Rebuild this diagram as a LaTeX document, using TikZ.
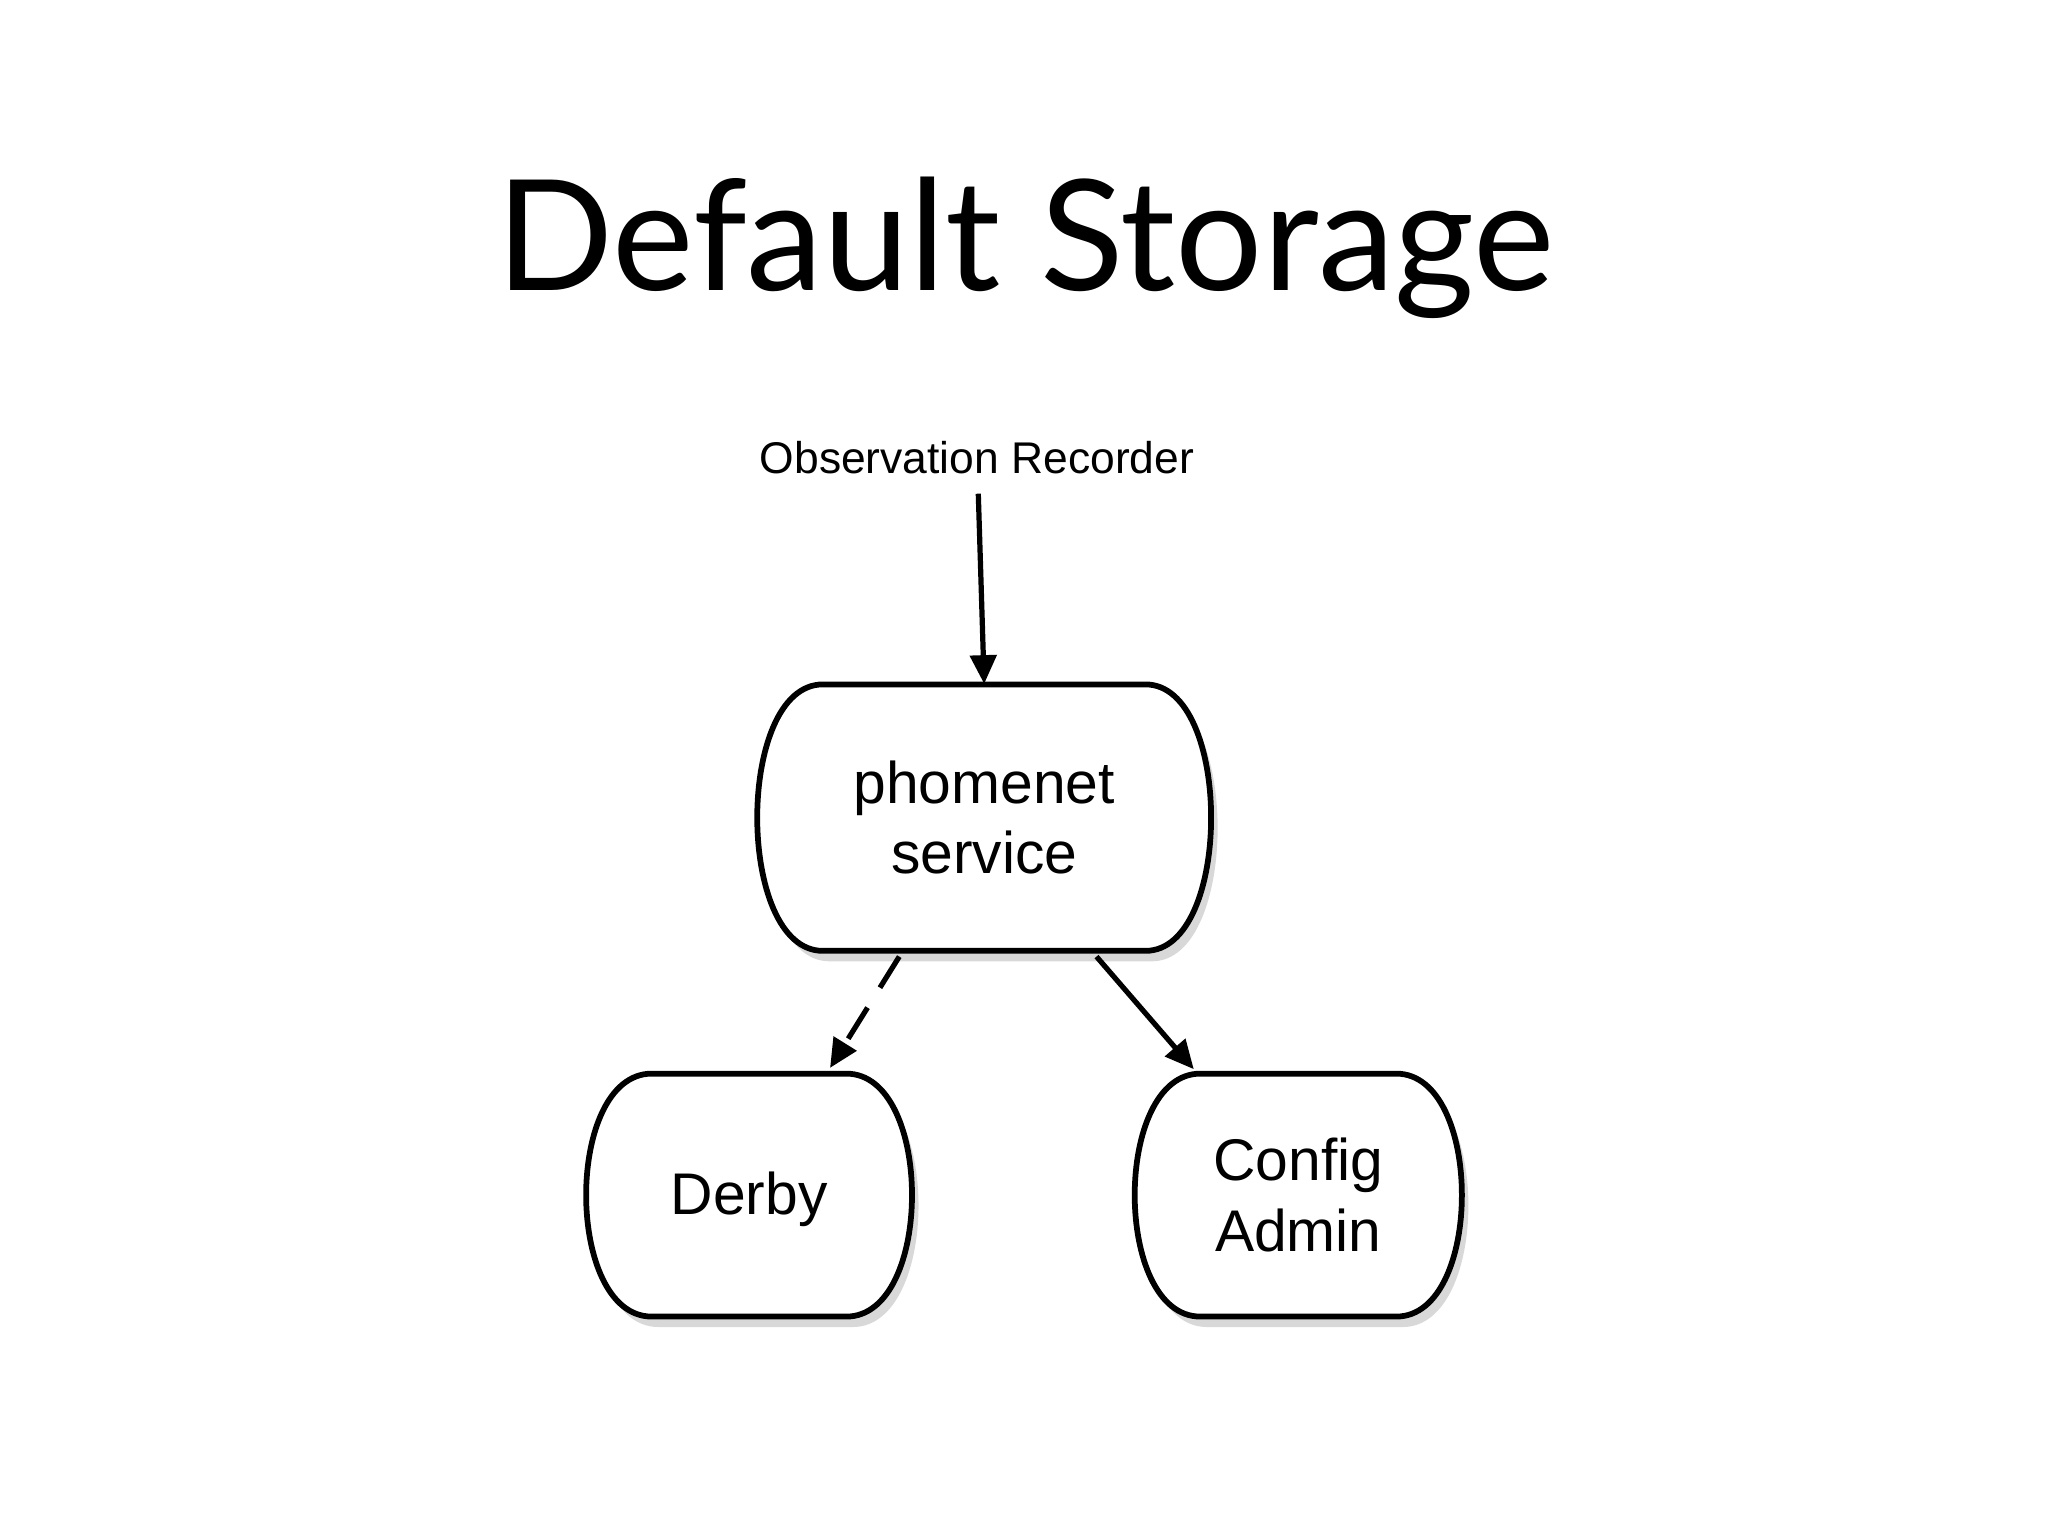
\documentclass[tikz,border=0pt]{standalone}
\usepackage{fontspec}
\setmainfont{Liberation Sans}
\newfontfamily\titlefont{Lato}
\usetikzlibrary{arrows.meta,calc}
\begin{document}
\begin{tikzpicture}[x=0.5pt,y=-0.5pt,
  box/.style={draw=none,inner sep=0pt,align=center,font=\fontsize{22.5}{27}\selectfont},
  conn/.style={line width=2pt,-{Triangle[length=11pt,width=10pt]}},
  edge/.style={line width=2.2pt},
  shade/.style={fill=black!30,opacity=0.5}]
\useasboundingbox (0,0) rectangle (1568,1176);
\newcommand{\cylpath}[4]{(#1+50,#2) -- (#3-50,#2) .. controls (#3+17,#2) and (#3+17,#4) .. (#3-50,#4) -- (#1+50,#4) .. controls (#1-17,#4) and (#1-17,#2) .. (#1+50,#2) -- cycle}
\newcommand{\cylbox}[4]{%
  \fill[shade] \cylpath{#1+5}{#2+8}{#3+5}{#4+8};
  \draw[edge,fill=white] \cylpath{#1}{#2}{#3}{#4};}
\node[font=\titlefont\fontsize{59}{64}\selectfont] (t) at (785,190) {Default Storage};
\node[font=\fontsize{17}{20}\selectfont] (o) at (748,350) {Observation Recorder};
\cylbox{580}{524}{927}{728}
\cylbox{449}{822}{698}{1008}
\cylbox{869}{822}{1119}{1008}
\node[box,minimum width=347*0.5pt,minimum height=204*0.5pt] (p) at (753.5,626) {phomenet\\service};
\node[box,minimum width=249*0.5pt,minimum height=186*0.5pt] (d) at (573.5,918) {Derby};
\node[box,minimum width=250*0.5pt,minimum height=186*0.5pt] (c) at (994,915) {Config\\Admin};
\draw[conn] (749,378) -- (p.north);
\draw[conn,dash pattern=on 14pt off 9pt] ($(p.south)+(-65,4)$) -- ($(d.north)+(62,-7)$);
\draw[conn] ($(p.south)+(86,4)$) -- ($(c.north)+(-80,-3)$);
\end{tikzpicture}
\end{document}
